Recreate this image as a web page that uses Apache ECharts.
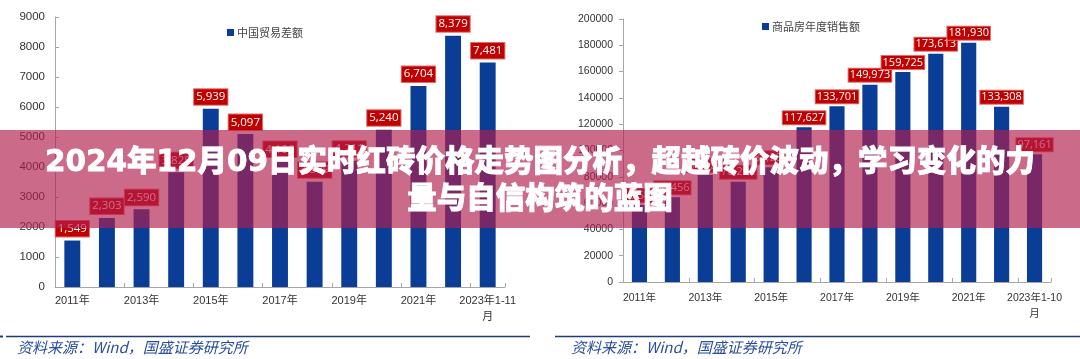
<!DOCTYPE html>
<html>
<head>
<meta charset="utf-8">
<script src="https://cdn.jsdelivr.net/npm/echarts@6/dist/echarts.min.js"></script>
<style>
html,body{margin:0;padding:0;background:#fff;}
#chart{width:1080px;height:359px;}
</style>
</head>
<body>
<div id="chart"></div>
<script>
// ---- data ----
const tradeCategories = ['2011年','2012年','2013年','2014年','2015年','2016年','2017年','2018年','2019年','2020年','2021年','2022年','2023年1-11月'];
const tradeBalance = [1549, 2303, 2590, 3825, 5939, 5097, 4196, 3509, 4211, 5240, 6704, 8379, 7481];
const tradeName = '中国贸易差额';
const tradeTicks = [0, 9000, 1000];

const salesCategories = ['2011年','2012年','2013年','2014年','2015年','2016年','2017年','2018年','2019年','2020年','2021年','2022年','2023年1-10月'];
const housingSales = [58589, 64456, 81428, 76292, 87281, 117627, 133701, 149973, 159725, 173613, 181930, 133308, 97161];
const salesName = '商品房年度销售额';
const salesTicks = [0, 200000, 20000];

const titleLines = ['2024年12月09日实时红砖价格走势图分析，超越砖价波动，学习变化的力', '量与自信构筑的蓝图'];
const sourceText = '资料来源：Wind，国盛证券研究所';

// ---- styles ----
const BLUE = '#0a3e96';
const AXIS = '#a6a6a6';
const numFont = '"Liberation Sans", "Noto Sans CJK SC", sans-serif';
const fmtNum = v => v.toLocaleString('en-US');
const wrapCat = v => v.replace(/(\d+-\d+)月$/, '$1\n月');

function xAxisCfg(idx, data, fs, margin) {
  return {
    type: 'category', gridIndex: idx, data: data,
    axisLine: { lineStyle: { color: AXIS, width: 1 } },
    axisTick: { show: true, interval: 1, inside: true, length: 4, lineStyle: { color: AXIS } },
    axisLabel: { interval: 1, color: '#333', fontSize: fs, fontFamily: numFont, margin: margin, lineHeight: 16, formatter: wrapCat },
    splitLine: { show: false }
  };
}
function yAxisCfg(idx, ticks, fs, inside) {
  return {
    type: 'value', gridIndex: idx, min: ticks[0], max: ticks[1], interval: ticks[2],
    axisLine: { show: true, lineStyle: { color: AXIS, width: 1 } },
    axisTick: { show: true, inside: inside, length: 4, lineStyle: { color: AXIS } },
    axisLabel: { color: '#333', fontSize: fs, fontFamily: numFont, margin: 10, formatter: v => String(v) },
    splitLine: { show: false }
  };
}
function labelCfg(fs, pad, dist) {
  return {
    show: true, position: 'top', distance: dist,
    color: '#fff', fontSize: fs, fontFamily: '"Open Sans", sans-serif',
    backgroundColor: '#c00000', borderColor: '#e26b6b', borderWidth: 1,
    padding: pad, lineHeight: fs + 2,
    formatter: p => fmtNum(p.value)
  };
}

const chart = echarts.init(document.getElementById('chart'), null, { renderer: 'canvas' });

const G = 100;
const titleFont = '900 29.5px "DejaVu Sans", "Noto Sans CJK SC", sans-serif';
const option = {
  animation: false,
  backgroundColor: '#fff',
  grid: [
    { left: 55, top: 17, width: 450, height: 270 },
    { left: 623, top: 19, width: 428, height: 263 }
  ],
  legend: [
    { data: [tradeName], left: 222, top: 22, itemWidth: 7, itemHeight: 7, itemGap: 2, icon: 'rect',
      textStyle: { fontSize: 11, color: '#444', fontFamily: '"Noto Sans CJK SC", sans-serif', padding: [0,0,0,-2] } },
    { data: [salesName], left: 757, top: 16, itemWidth: 7, itemHeight: 7, itemGap: 2, icon: 'rect',
      textStyle: { fontSize: 11, color: '#444', fontFamily: '"Noto Sans CJK SC", sans-serif', padding: [0,0,0,-2] } }
  ],
  xAxis: [ xAxisCfg(0, tradeCategories, 11, 6), xAxisCfg(1, salesCategories, 10.5, 8) ],
  yAxis: [ yAxisCfg(0, tradeTicks, 11.5, true), yAxisCfg(1, salesTicks, 10.5, false) ],
  series: [
    { name: tradeName, type: 'bar', xAxisIndex: 0, yAxisIndex: 0, data: tradeBalance,
      barWidth: '46%', itemStyle: { color: BLUE }, label: labelCfg(11.5, [1,2], 4) },
    { name: salesName, type: 'bar', xAxisIndex: 1, yAxisIndex: 1, data: housingSales,
      barWidth: '46%', itemStyle: { color: BLUE }, label: labelCfg(11, [0,1], 3) }
  ],
  graphic: [
    // source lines and text
    { type: 'rect', z: G, shape: { x: 0, y: 335.5, width: 3, height: 2 }, style: { fill: '#1f3c7a' } },
    { type: 'line', z: G, shape: { x1: 6, y1: 336.5, x2: 530, y2: 336.5 }, style: { stroke: '#1f3c7a', lineWidth: 1.6 } },
    { type: 'line', z: G, shape: { x1: 555, y1: 336.5, x2: 1080, y2: 336.5 }, style: { stroke: '#1f3c7a', lineWidth: 1.6 } },
    { type: 'text', z: G, x: 17, y: 347, style: { text: sourceText, fill: '#2a4f9e', font: 'italic 15px "Noto Sans CJK SC", sans-serif', textVerticalAlign: 'middle' } },
    { type: 'text', z: G, x: 571, y: 347, style: { text: sourceText, fill: '#2a4f9e', font: 'italic 15px "Noto Sans CJK SC", sans-serif', textVerticalAlign: 'middle' } },
    // banner
    { type: 'rect', z: G + 10, shape: { x: 0, y: 130, width: 1080, height: 98 }, style: { fill: 'rgba(178,29,78,0.66)' } },
    { type: 'text', z: G + 11, x: 540, y: 163, style: { text: titleLines[0], fill: '#fff', stroke: '#fff', lineWidth: 0.8, font: titleFont, textAlign: 'center', textVerticalAlign: 'middle' } },
    { type: 'text', z: G + 11, x: 540, y: 200, style: { text: titleLines[1], fill: '#fff', stroke: '#fff', lineWidth: 0.8, font: titleFont, textAlign: 'center', textVerticalAlign: 'middle' } }
  ]
};
chart.setOption(option);
</script>
</body>
</html>
